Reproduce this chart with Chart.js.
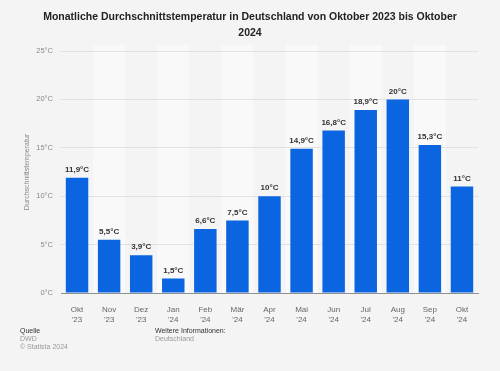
<!DOCTYPE html>
<html>
<head>
<meta charset="utf-8">
<script src="https://cdn.jsdelivr.net/npm/chart.js@4/dist/chart.umd.min.js"></script>
<style>
html,body{margin:0;padding:0;background:#f4f4f4;}
#wrap{width:500px;height:371px;position:relative;}
</style>
</head>
<body>
<div id="wrap"><canvas id="myGraph" width="500" height="371"></canvas></div>
<script>
const months=[['Okt',"'23"],['Nov',"'23"],['Dez',"'23"],['Jan',"'24"],['Feb',"'24"],['Mär',"'24"],['Apr',"'24"],['Mai',"'24"],['Jun',"'24"],['Jul',"'24"],['Aug',"'24"],['Sep',"'24"],['Okt',"'24"]]
const temps=[11.9,5.5,3.9,1.5,6.6,7.5,10,14.9,16.8,18.9,20,15.3,11]
const yTicks=[0,5,10,15,20,25]
const titleLines=['Monatliche Durchschnittstemperatur in Deutschland von Oktober 2023 bis Oktober','2024']
const fontFam='"Liberation Sans", Arial, Helvetica, sans-serif'

function fmt(v){
    return String(v).replace('.',',')+'°C'
}

// alternating column stripes (under the grid), value labels, title and footer
const extras={
    id:'extras',
    beforeDraw(chart){
        const {ctx,chartArea,scales}=chart
        const x=scales.x
        const step=x.getPixelForValue(1)-x.getPixelForValue(0)
        ctx.save()
        ctx.fillStyle='#f9f9f9'
        for(let i=1;i<months.length;i+=2){
            let c=x.getPixelForValue(i)
            ctx.fillRect(c-step/2,chartArea.top-6,step,chartArea.bottom-chartArea.top+6)
        }
        ctx.restore()
    },
    afterDatasetsDraw(chart){
        const {ctx}=chart
        const meta=chart.getDatasetMeta(0)
        ctx.save()
        ctx.font='bold 8px '+fontFam
        ctx.fillStyle='#333'
        ctx.textAlign='center'
        ctx.textBaseline='bottom'
        meta.data.forEach((bar,i)=>{
            ctx.fillText(fmt(temps[i]),bar.x,bar.y-4)
        })
        ctx.restore()
    },
    afterDraw(chart){
        const {ctx}=chart
        ctx.save()
        ctx.fillStyle='#222'
        ctx.font='bold 10.5px '+fontFam
        ctx.textAlign='center'
        ctx.textBaseline='middle'
        ctx.fillText(titleLines[0],250,17)
        ctx.fillText(titleLines[1],250,33)
        ctx.textAlign='left'
        ctx.font='7px '+fontFam
        ctx.fillStyle='#333'
        ctx.fillText('Quelle',20,331)
        ctx.fillText('Weitere Informationen:',155,331)
        ctx.fillStyle='#999'
        ctx.fillText('DWD',20,339)
        ctx.fillText('© Statista 2024',20,347)
        ctx.fillText('Deutschland',155,339)
        ctx.restore()
    }
}

let chart=new Chart(document.getElementById('myGraph').getContext('2d'),{
    type:'bar',
    data:{
        labels:months,
        datasets:[{
            label:'Durchschnittstemperatur',
            data:temps,
            backgroundColor:'#0b64e0',
            barPercentage:0.7,
            categoryPercentage:1
        }]
    },
    plugins:[extras],
    options:{
        responsive:false,
        animation:false,
        layout:{padding:{left:0,right:22,top:51,bottom:0}},
        plugins:{
            legend:{display:false},
            tooltip:{enabled:false}
        },
        scales:{
            x:{
                afterFit(s){s.height=78},
                grid:{display:false},
                border:{display:true,color:'#8f8f8f',width:1},
                ticks:{
                    color:'#666',
                    font:{family:fontFam,size:8},
                    padding:4,
                    maxRotation:0
                }
            },
            y:{
                min:0,
                max:25,
                afterFit(s){s.width=61},
                afterBuildTicks(s){s.ticks=yTicks.map(v=>({value:v}))},
                grid:{color:'#e2e2e2',drawTicks:false},
                border:{display:false},
                ticks:{
                    color:'#888',
                    font:{family:fontFam,size:7.5},
                    padding:8,
                    callback:v=>v+'°C'
                },
                title:{
                    display:true,
                    text:'Durchschnittstemperatur',
                    color:'#888',
                    font:{family:fontFam,size:7},
                    padding:{top:23}
                }
            }
        }
    }
})
</script>
</body>
</html>
